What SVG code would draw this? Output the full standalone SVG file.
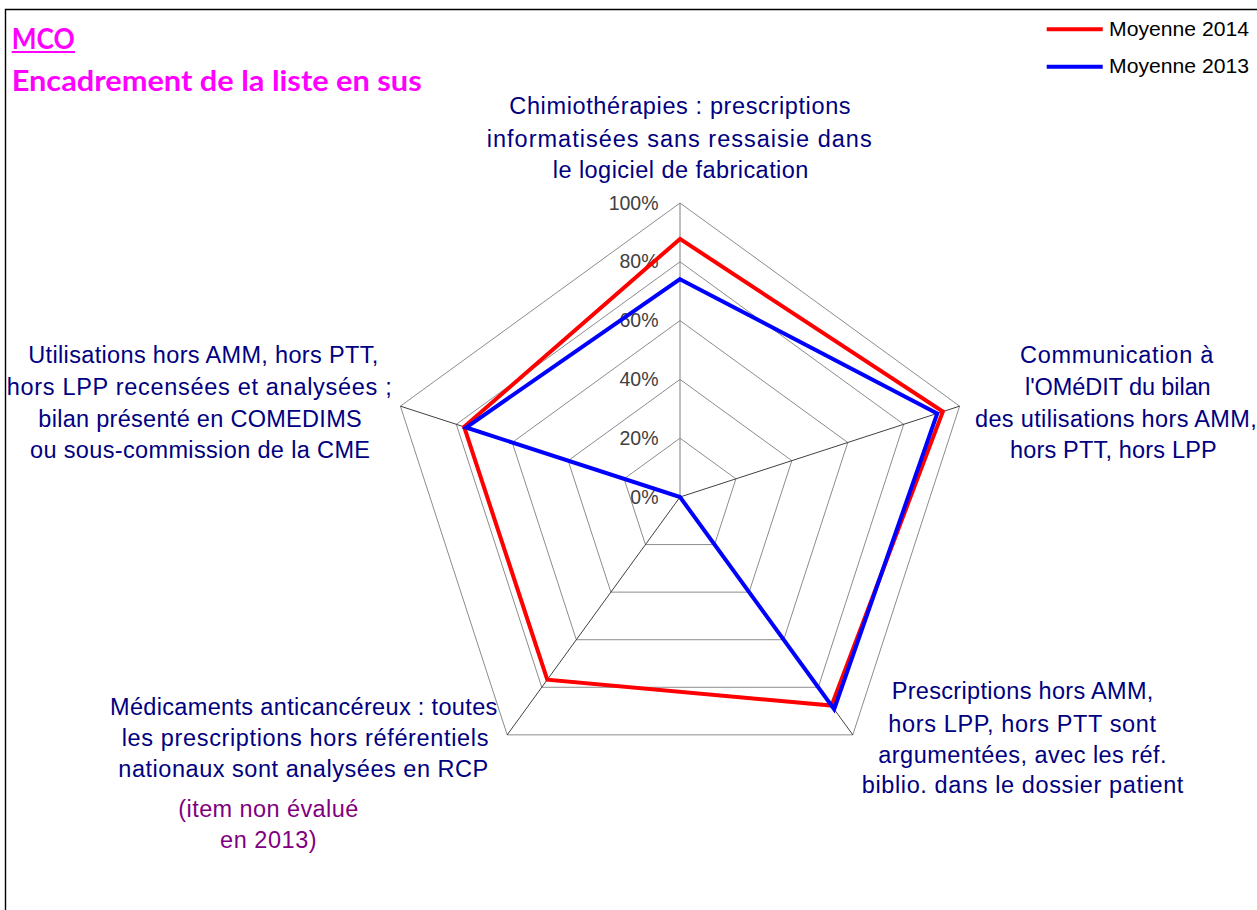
<svg xmlns="http://www.w3.org/2000/svg" width="1257" height="910" viewBox="0 0 1257 910">
<style>
.ring{fill:none;stroke:#8c8c8c;stroke-width:1}
.spoke{fill:none;stroke:#404040;stroke-width:1}
.cat{font-family:"Liberation Sans",Arial,sans-serif;font-size:23.5px;fill:#000080}
.note{font-family:"Liberation Sans",Arial,sans-serif;font-size:23.5px;fill:#800080}
.pct{font-family:"Liberation Sans",Arial,sans-serif;font-size:19.5px;fill:#404040;text-anchor:end}
.leg{font-family:"Liberation Sans",Arial,sans-serif;font-size:20px;fill:#000}
.title{font-family:Lato,"Open Sans",sans-serif;font-weight:bold;fill:#ff00ff}
.s2014{fill:none;stroke:#ff0000;stroke-width:4;stroke-linejoin:miter}
.s2013{fill:none;stroke:#0000ff;stroke-width:4;stroke-linejoin:miter}
</style>
<rect x="0" y="0" width="1257" height="910" fill="#fff"/>
<path d="M5.5,910 V9.5 H1257" fill="none" stroke="#000" stroke-width="1.4"/>

<g id="title">
<text class="title" x="11.7" y="49.3" font-size="28" textLength="63" lengthAdjust="spacingAndGlyphs">MCO</text>
<line x1="11.7" y1="52" x2="75" y2="52" stroke="#ff00ff" stroke-width="2"/>
<text class="title" x="11.7" y="90.7" font-size="29" textLength="410" lengthAdjust="spacingAndGlyphs">Encadrement de la liste en sus</text>
</g>

<g id="legend">
<line x1="1046.7" y1="29.3" x2="1102.7" y2="29.3" class="s2014"/>
<text class="leg" x="1109" y="36" textLength="140" lengthAdjust="spacingAndGlyphs">Moyenne 2014</text>
<line x1="1046.7" y1="66.7" x2="1102.7" y2="66.7" class="s2013"/>
<text class="leg" x="1109" y="73.3" textLength="140" lengthAdjust="spacingAndGlyphs">Moyenne 2013</text>
</g>

<g id="grid">
<polygon class="ring" points="680,438.2 735.92,478.83 714.56,544.57 645.44,544.57 624.08,478.83"/>
<polygon class="ring" points="680,379.4 791.84,460.66 749.12,592.14 610.88,592.14 568.16,460.66"/>
<polygon class="ring" points="680,320.6 847.77,442.49 783.69,639.71 576.31,639.71 512.23,442.49"/>
<polygon class="ring" points="680,261.8 903.69,424.32 818.25,687.28 541.75,687.28 456.31,424.32"/>
<polygon class="ring" points="680,203 959.61,406.15 852.81,734.85 507.19,734.85 400.39,406.15"/>
<line x1="680" y1="497" x2="680" y2="203" stroke="#7f7f7f" stroke-width="1"/>
<line class="spoke" x1="680" y1="497" x2="959.61" y2="406.15"/>
<line class="spoke" x1="680" y1="497" x2="852.81" y2="734.85"/>
<line class="spoke" x1="680" y1="497" x2="507.19" y2="734.85"/>
<line class="spoke" x1="680" y1="497" x2="400.39" y2="406.15"/>
</g>

<g id="axis-labels">
<text class="pct" x="658.5" y="503.5">0%</text>
<text class="pct" x="658.5" y="444.7">20%</text>
<text class="pct" x="658.5" y="385.9">40%</text>
<text class="pct" x="658.5" y="327.1">60%</text>
<text class="pct" x="658.5" y="268.3">80%</text>
<text class="pct" x="658.5" y="209.5">100%</text>
</g>

<g id="node-top">
<text class="cat" x="509.3" y="114.3" textLength="341.3" lengthAdjust="spacing">Chimiothérapies : prescriptions</text>
<text class="cat" x="486.7" y="146.7" textLength="385" lengthAdjust="spacing">informatisées sans ressaisie dans</text>
<text class="cat" x="552.7" y="177.7" textLength="255.7" lengthAdjust="spacing">le logiciel de fabrication</text>
</g>

<g id="node-right">
<text class="cat" x="1020" y="363.3" textLength="193.3" lengthAdjust="spacing">Communication à</text>
<text class="cat" x="1025" y="395" textLength="185.7" lengthAdjust="spacing">l'OMéDIT du bilan</text>
<text class="cat" x="975" y="426.7" textLength="281.7" lengthAdjust="spacing">des utilisations hors AMM,</text>
<text class="cat" x="1010" y="458.3" textLength="206.7" lengthAdjust="spacing">hors PTT, hors LPP</text>
</g>

<g id="node-lower-right">
<text class="cat" x="891.7" y="699.3" textLength="261.7" lengthAdjust="spacing">Prescriptions hors AMM,</text>
<text class="cat" x="888.3" y="731.7" textLength="267.7" lengthAdjust="spacing">hors LPP, hors PTT sont</text>
<text class="cat" x="878.3" y="762.7" textLength="288.3" lengthAdjust="spacing">argumentées, avec les réf.</text>
<text class="cat" x="861.7" y="793" textLength="321.7" lengthAdjust="spacing">biblio. dans le dossier patient</text>
</g>

<g id="node-lower-left">
<text class="cat" x="110" y="715" textLength="387.3" lengthAdjust="spacing">Médicaments anticancéreux : toutes</text>
<text class="cat" x="121.7" y="746" textLength="366.7" lengthAdjust="spacing">les prescriptions hors référentiels</text>
<text class="cat" x="118.3" y="777.3" textLength="370" lengthAdjust="spacing">nationaux sont analysées en RCP</text>
<text class="note" x="178.3" y="816.7" textLength="180" lengthAdjust="spacing">(item non évalué</text>
<text class="note" x="220" y="848.3" textLength="96.7" lengthAdjust="spacing">en 2013)</text>
</g>

<g id="node-left">
<text class="cat" x="28.3" y="363.3" textLength="350" lengthAdjust="spacing">Utilisations hors AMM, hors PTT,</text>
<text class="cat" x="6.7" y="395" textLength="385" lengthAdjust="spacing">hors LPP recensées et analysées ;</text>
<text class="cat" x="38.3" y="426.7" textLength="323.4" lengthAdjust="spacing">bilan présenté en COMEDIMS</text>
<text class="cat" x="30" y="458.3" textLength="340" lengthAdjust="spacing">ou sous-commission de la CME</text>
</g>

<g id="series">
<polygon class="s2014" points="680,238.9 942.83,411.6 831.55,705.6 547.28,679.67 464.14,426.86"/>
<polygon class="s2013" points="680,279.15 937.24,413.42 834.15,709.16 680,497 466.1,427.5"/>
</g>
</svg>
